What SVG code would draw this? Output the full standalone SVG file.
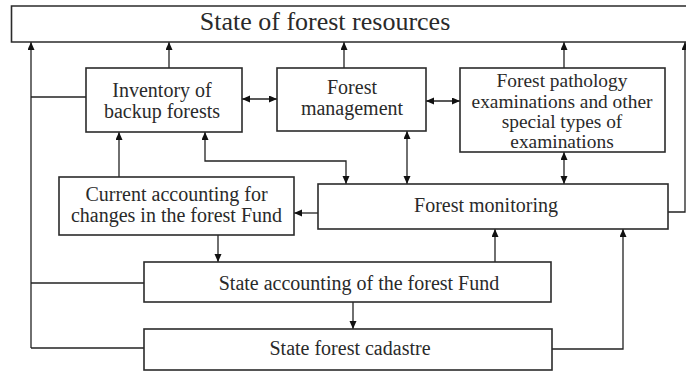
<svg xmlns="http://www.w3.org/2000/svg" width="686" height="373" viewBox="0 0 686 373">
<style>
.box{fill:#fff;stroke:#2b2b2b;stroke-width:1.6}
.ln{fill:none;stroke:#222;stroke-width:1.3}
.a{marker-end:url(#ah)}
.b{marker-start:url(#ah);marker-end:url(#ah)}
text{font-family:"Liberation Serif","Times New Roman",serif;font-size:20px;fill:#2a2a2a;text-anchor:middle}
.sm{font-size:19.4px}
</style>
<defs>
<marker id="ah" markerUnits="userSpaceOnUse" markerWidth="9" markerHeight="8" refX="8" refY="3.5" orient="auto-start-reverse">
<path d="M0,0 L8,3.5 L0,7 z" fill="#111"/>
</marker>
</defs>
<rect width="686" height="373" fill="#fff"/>
<g id="connectors">
<path class="ln a" d="M31,348 V42"/>
<path class="ln" d="M31,97 H86"/>
<path class="ln" d="M31,283 H144"/>
<path class="ln" d="M31,348 H144"/>
<path class="ln a" d="M169,68 V42"/>
<path class="ln a" d="M344,68 V42"/>
<path class="ln a" d="M564,68 V42"/>
<path class="ln a" d="M668,212 H685 V42"/>
<path class="ln b" d="M242,99 H277"/>
<path class="ln b" d="M426,101 H460"/>
<path class="ln a" d="M119,177 V132"/>
<path class="ln b" d="M205,132 V161 H346 V184"/>
<path class="ln b" d="M407,131 V184"/>
<path class="ln b" d="M564,152 V184"/>
<path class="ln a" d="M318,213 H294"/>
<path class="ln a" d="M218,235 V262"/>
<path class="ln a" d="M495,262 V229"/>
<path class="ln a" d="M552,349 H623 V229"/>
<path class="ln a" d="M353,302 V329"/>
</g>
<g id="state-of-forest-resources">
<path class="box" d="M700,6 H11.5 V42 H700"/>
<text x="325" y="30" style="font-size:26px">State of forest resources</text>
</g>
<g id="inventory">
<rect class="box" x="86" y="68" width="156" height="64"/>
<text x="162" y="97">Inventory of</text>
<text x="162" y="118">backup forests</text>
</g>
<g id="forest-management">
<rect class="box" x="277" y="68" width="149" height="63"/>
<text x="352" y="94">Forest</text>
<text x="352" y="115">management</text>
</g>
<g id="forest-pathology">
<rect class="box" x="460" y="68" width="205" height="84"/>
<text class="sm" x="562" y="87.4">Forest pathology</text>
<text class="sm" x="562" y="107.6">examinations and other</text>
<text class="sm" x="562" y="127.8">special types of</text>
<text class="sm" x="562" y="148">examinations</text>
</g>
<g id="current-accounting">
<rect class="box" x="59" y="177" width="235" height="58"/>
<text x="176.5" y="200.5">Current accounting for</text>
<text x="176.5" y="221.5">changes in the forest Fund</text>
</g>
<g id="forest-monitoring">
<rect class="box" x="318" y="184" width="350" height="45"/>
<text x="486" y="212">Forest monitoring</text>
</g>
<g id="state-accounting">
<rect class="box" x="144" y="262" width="407" height="40"/>
<text x="359" y="290">State accounting of the forest Fund</text>
</g>
<g id="state-forest-cadastre">
<rect class="box" x="144" y="329" width="408" height="41"/>
<text x="350" y="355">State forest cadastre</text>
</g>
</svg>
